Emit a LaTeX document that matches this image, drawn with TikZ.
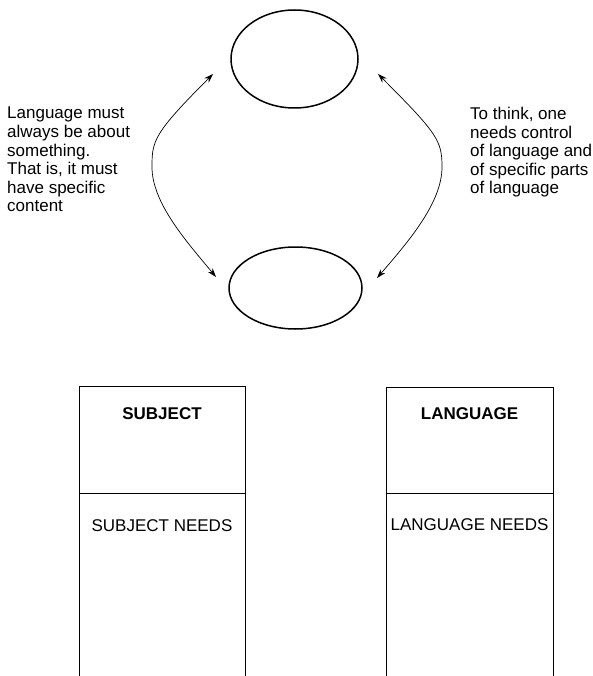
\documentclass[tikz,border=0pt]{standalone}
\usepackage{fontspec}
\setmainfont{Liberation Sans}
\usetikzlibrary{arrows.meta,shapes.geometric}
\begin{document}
\begin{tikzpicture}[x=1pt,y=-1pt,
  oval/.style={draw,ellipse,line width=1.5pt,inner sep=0pt},
  link/.style={line width=0.7pt,{Stealth[length=9pt,width=6pt]}-{Stealth[length=9pt,width=6pt]}},
  boxline/.style={line width=0.9pt},
  note/.style={font=\fontsize{17}{18.6}\selectfont,align=left,anchor=north west,inner sep=0pt},
  head/.style={font=\fontsize{17}{18.6}\selectfont\bfseries,anchor=base,inner sep=0pt},
  need/.style={font=\fontsize{17}{18.6}\selectfont,anchor=base,inner sep=0pt}]
\useasboundingbox (0,0) rectangle (593,676);
% ovals
\node[oval,minimum width=127pt,minimum height=98pt] (top) at (294.5,59) {};
\node[oval,minimum width=133pt,minimum height=82pt] (bot) at (295.5,288) {};
% connector end points
\coordinate (la) at (213,74);
\coordinate (lb) at (216,277);
\coordinate (ra) at (378,74);
\coordinate (rb) at (377,278);
\draw[link] (la) .. controls (153,134) and (152,141) .. (152,167)
                 .. controls (152,203) and (186.6,241.6) .. (lb);
\draw[link] (ra) .. controls (438,134) and (442,141) .. (442,167)
                 .. controls (442,203) and (408,242) .. (rb);
% side notes
\node[note] (ln) at (7,107) {Language must\\always be about\\something.\\That is, it must\\have specific\\content};
\node[note] (rn) at (470,107) {To think, one\\needs control\\of language and\\of specific parts\\of language};
% boxes
\draw[boxline] (79,676) -- (79,386) -- (245,386) -- (245,676);
\draw[boxline] (79,493) -- (245,493);
\draw[boxline] (386,676) -- (386,387) -- (553,387) -- (553,676);
\draw[boxline] (386,493) -- (553,493);
\node[head] (subj) at (162,419) {SUBJECT};
\node[head] (lang) at (469.5,419) {LANGUAGE};
\node[need] (subjn) at (162,531) {SUBJECT NEEDS};
\node[need] (langn) at (469.5,530) {LANGUAGE NEEDS};
\end{tikzpicture}
\end{document}
